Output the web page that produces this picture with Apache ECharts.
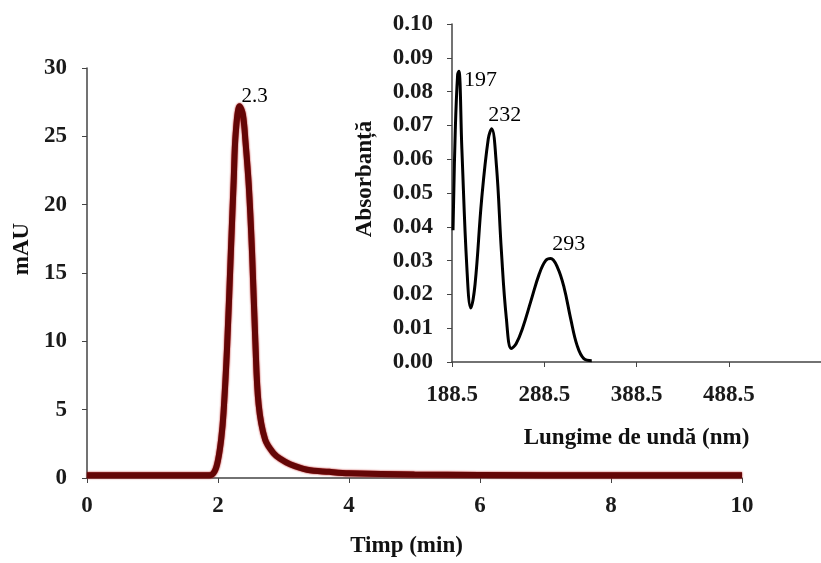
<!DOCTYPE html>
<html>
<head>
<meta charset="utf-8">
<script src="https://cdn.jsdelivr.net/npm/echarts@6/dist/echarts.min.js"></script>
<style>
  html, body { margin: 0; padding: 0; background: #fff; }
  #chart { width: 821px; height: 563px; }
</style>
</head>
<body>
<div id="chart"></div>
<script>
// chromatogram (main)
const timeMin = [0, 1, 1.8, 1.88, 1.95, 2.0, 2.05, 2.085, 2.14, 2.2, 2.24, 2.27, 2.33, 2.38, 2.42, 2.47, 2.52, 2.57, 2.62, 2.72, 2.85, 2.95, 3.1, 3.36, 3.7, 4, 5, 7, 10];
const mAU = [0.2, 0.2, 0.2, 0.2, 0.5, 1.3, 2.9, 4.8, 9.7, 17, 21.8, 25.2, 27.2, 26.6, 24.6, 21.4, 16.5, 10, 5.4, 2.8, 1.8, 1.4, 1.0, 0.6, 0.45, 0.35, 0.25, 0.2, 0.2];
const mainPeakIndex = 12;
const mainPeakLabel = '2.3';

// UV spectrum (inset)
const wavelength = [189.6, 192, 194.6, 196, 199.2, 204.6, 208.9, 213.5, 220.6, 227.8, 231.5, 236.7, 242, 247.4, 252.8, 258, 265, 274, 283, 290, 295.5, 302.8, 310, 317, 324, 331.4, 340];
const absorb = [0.039, 0.068, 0.085, 0.086, 0.063, 0.028, 0.016, 0.023, 0.048, 0.066, 0.069, 0.058, 0.033, 0.013, 0.004, 0.0054, 0.010, 0.018, 0.026, 0.030, 0.0306, 0.028, 0.022, 0.013, 0.005, 0.001, 0.0004];
const insetPeaks = { 3: '197', 10: '232', 20: '293' };

const serif = 'Liberation Serif';

const chart = echarts.init(document.getElementById('chart'));

const mainData = timeMin.map((t, i) => {
  if (i === mainPeakIndex) {
    return {
      value: [t, mAU[i]],
      label: { show: true, formatter: mainPeakLabel, position: 'top', offset: [15, 6] },
    };
  }
  return [t, mAU[i]];
});

const peakOffsets = { 3: ['right', [0, 9]], 10: ['top', [13, 2]], 20: ['top', [18, 2]] };
const insetData = wavelength.map((w, i) => {
  if (insetPeaks[i]) {
    return {
      value: [w, absorb[i]],
      label: { show: true, formatter: insetPeaks[i], position: peakOffsets[i][0], offset: peakOffsets[i][1] },
    };
  }
  return [w, absorb[i]];
});

const axisCommon = {
  axisLine: { show: true, onZero: false, lineStyle: { color: '#444', width: 1.5 } },
  axisTick: { show: true, inside: false, length: 5, lineStyle: { color: '#444' } },
  splitLine: { show: false },
  axisLabel: { fontFamily: serif, fontSize: 23, fontWeight: 'bold', color: '#1a1a1a' },
  nameTextStyle: { fontFamily: serif, fontSize: 23, fontWeight: 'bold', color: '#111' },
};

const option = {
  backgroundColor: '#fff',
  animation: false,
  grid: [
    { left: 87, right: 79, top: 68, bottom: 83 },
    { left: 452, width: 374, top: 24, bottom: 201 },
  ],
  xAxis: [
    {
      ...axisCommon,
      gridIndex: 0,
      type: 'value',
      min: 0,
      max: 10,
      interval: 2,
      name: 'Timp (min)',
      nameLocation: 'middle',
      nameGap: 57,
      nameTextStyle: { ...axisCommon.nameTextStyle, padding: [0, 16, 0, 0] },
      axisLabel: { ...axisCommon.axisLabel, margin: 17 },
    },
    {
      ...axisCommon,
      gridIndex: 1,
      type: 'value',
      min: 188.5,
      max: 588.5,
      interval: 100,
      name: 'Lungime de undă (nm)',
      nameLocation: 'middle',
      nameGap: 65,
      axisLabel: { ...axisCommon.axisLabel, margin: 22, showMaxLabel: false, formatter: (v) => v.toFixed(1) },
    },
  ],
  yAxis: [
    {
      ...axisCommon,
      gridIndex: 0,
      type: 'value',
      min: 0,
      max: 30,
      interval: 5,
      name: 'mAU',
      nameLocation: 'middle',
      nameGap: 48,
      nameTextStyle: { ...axisCommon.nameTextStyle, padding: [0, 0, 0, 48] },
      axisLabel: { ...axisCommon.axisLabel, margin: 20 },
    },
    {
      ...axisCommon,
      gridIndex: 1,
      type: 'value',
      min: 0,
      max: 0.1,
      interval: 0.01,
      name: 'Absorbanță',
      nameLocation: 'middle',
      nameGap: 75,
      nameTextStyle: { ...axisCommon.nameTextStyle, padding: [0, 0, 0, 28] },
      axisLabel: { ...axisCommon.axisLabel, margin: 19, formatter: (v) => v.toFixed(2) },
    },
  ],
  series: [
    {
      type: 'line',
      xAxisIndex: 0,
      yAxisIndex: 0,
      data: mainData,
      smooth: 0.35,
      symbol: 'circle',
      symbolSize: 0,
      showSymbol: true,
      lineStyle: { color: '#640606', width: 6, shadowColor: '#b00000', shadowBlur: 2 },
      label: { fontFamily: serif, fontSize: 21, color: '#000' },
      z: 3,
    },
    {
      type: 'line',
      xAxisIndex: 1,
      yAxisIndex: 1,
      data: insetData,
      smooth: 0.4,
      symbol: 'circle',
      symbolSize: 0,
      showSymbol: true,
      lineStyle: { color: '#000', width: 3 },
      label: { fontFamily: serif, fontSize: 22, color: '#000' },
      z: 3,
    },
  ],
};

chart.setOption(option);
</script>
</body>
</html>
